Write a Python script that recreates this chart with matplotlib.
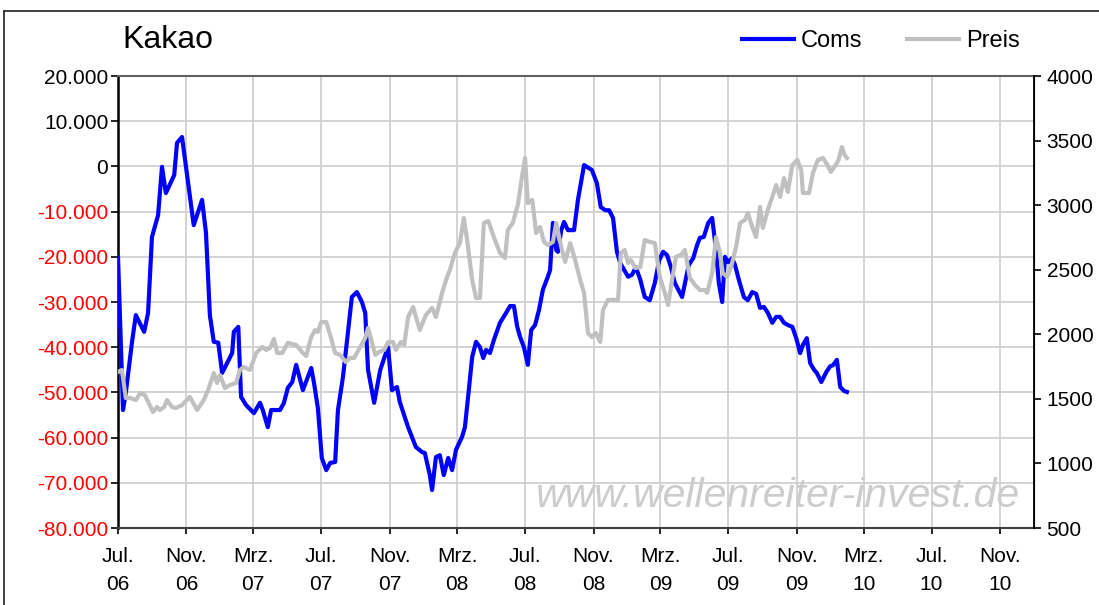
import numpy as np
import pandas as pd
import matplotlib
matplotlib.use('Agg')
import matplotlib.pyplot as plt
from matplotlib.lines import Line2D
from matplotlib.ticker import FuncFormatter

plt.rcParams['font.family'] = ['Liberation Sans', 'DejaVu Sans']

# Coms (net position), left axis
coms_dates = ['2006-07-01', '2006-07-10', '2006-07-15', '2006-07-26', '2006-08-02', '2006-08-17',
              '2006-08-24', '2006-08-31', '2006-09-11', '2006-09-18', '2006-09-25', '2006-10-04',
              '2006-10-10', '2006-10-15', '2006-10-24', '2006-11-14', '2006-11-29', '2006-12-06',
              '2006-12-13', '2006-12-20', '2006-12-28', '2007-01-04', '2007-01-11', '2007-01-22',
              '2007-01-25', '2007-02-02', '2007-02-07', '2007-02-16', '2007-03-02', '2007-03-13',
              '2007-03-18', '2007-03-27', '2007-04-02', '2007-04-18', '2007-04-25', '2007-05-02',
              '2007-05-10', '2007-05-17', '2007-05-29', '2007-06-13', '2007-06-18', '2007-06-25',
              '2007-07-02', '2007-07-10', '2007-07-17', '2007-07-26', '2007-07-31', '2007-08-09',
              '2007-08-25', '2007-09-03', '2007-09-12', '2007-09-18', '2007-09-23', '2007-10-04',
              '2007-10-15', '2007-10-24', '2007-10-29', '2007-11-05', '2007-11-14', '2007-11-19',
              '2007-12-04', '2007-12-18', '2007-12-29', '2008-01-03', '2008-01-12', '2008-01-16',
              '2008-01-23', '2008-01-30', '2008-02-06', '2008-02-14', '2008-02-21', '2008-02-28',
              '2008-03-10', '2008-03-15', '2008-03-22', '2008-03-28', '2008-04-04', '2008-04-11',
              '2008-04-17', '2008-04-22', '2008-04-29', '2008-05-06', '2008-05-17', '2008-05-28',
              '2008-06-04', '2008-06-11', '2008-06-17', '2008-06-22', '2008-06-29', '2008-07-06',
              '2008-07-12', '2008-07-19', '2008-07-26', '2008-08-02', '2008-08-11', '2008-08-15',
              '2008-08-20', '2008-08-26', '2008-08-29', '2008-09-04', '2008-09-09', '2008-09-16',
              '2008-09-27', '2008-10-04', '2008-10-15', '2008-10-29', '2008-11-07', '2008-11-14',
              '2008-11-22', '2008-11-29', '2008-12-06', '2008-12-13', '2008-12-19', '2008-12-26',
              '2009-01-02', '2009-01-09', '2009-01-16', '2009-01-24', '2009-02-01', '2009-02-10',
              '2009-02-19', '2009-02-27', '2009-03-06', '2009-03-13', '2009-03-20', '2009-03-27',
              '2009-04-09', '2009-04-21', '2009-04-29', '2009-05-06', '2009-05-11', '2009-05-18',
              '2009-05-26', '2009-06-02', '2009-06-09', '2009-06-14', '2009-06-20', '2009-06-25',
              '2009-07-01', '2009-07-08', '2009-07-13', '2009-07-20', '2009-07-29', '2009-08-05',
              '2009-08-13', '2009-08-20', '2009-08-27', '2009-09-03', '2009-09-10', '2009-09-18',
              '2009-09-25', '2009-10-02', '2009-10-09', '2009-10-16', '2009-10-24', '2009-10-31',
              '2009-11-07', '2009-11-12', '2009-11-19', '2009-11-25', '2009-12-02', '2009-12-07',
              '2009-12-15', '2009-12-24', '2009-12-31', '2010-01-05', '2010-01-12', '2010-01-18',
              '2010-01-25', '2010-01-30']
coms = [-20000, -53900, -50100, -39000, -32900, -36600,
        -32400, -15600, -10800, -100, -5900, -3500,
        -1900, 5200, 6500, -13000, -7400, -14700,
        -32900, -38800, -39000, -45700, -44000, -41300,
        -36600, -35500, -51000, -52800, -54600, -52300,
        -53900, -57700, -53900, -53900, -52300, -49000,
        -47700, -43900, -49500, -44600, -47900, -53500,
        -64500, -67200, -65600, -65400, -53900, -46600,
        -28900, -27800, -30000, -32400, -45000, -52300,
        -45000, -41700, -40000, -49500, -48800, -52100,
        -57700, -62100, -63200, -63400, -68300, -71600,
        -64300, -63900, -68300, -64500, -67200, -62700,
        -59800, -57700, -49500, -42200, -38800, -40000,
        -42400, -40600, -41300, -38400, -34600, -32400,
        -30900, -30900, -35500, -37700, -40000, -43900,
        -36200, -35100, -31800, -27300, -24400, -22900,
        -12500, -18500, -18900, -14100, -12300, -14100,
        -14100, -7400, 300, -800, -3700, -9000,
        -9700, -9700, -11400, -18900, -21400, -22900,
        -24400, -24000, -22300, -25100, -28900, -29600,
        -25800, -20700, -18900, -19600, -22300, -25800,
        -28900, -21800, -20300, -17400, -15800, -15600,
        -12500, -11400, -18500, -25800, -30000, -20000,
        -21200, -20300, -21800, -25100, -28900, -29600,
        -27800, -28200, -31300, -31100, -32400, -34600,
        -33300, -33300, -34600, -35100, -35500, -38000,
        -41300, -39500, -38000, -43500, -45000, -45700,
        -47700, -45500, -44200, -44000, -42800, -48800,
        -49700, -49900]

# Preis (price), right axis
preis_dates = ['2006-07-01', '2006-07-08', '2006-07-15', '2006-07-23', '2006-08-02', '2006-08-10',
               '2006-08-18', '2006-08-27', '2006-09-02', '2006-09-09', '2006-09-14', '2006-09-22',
               '2006-09-27', '2006-10-06', '2006-10-13', '2006-10-24', '2006-11-07', '2006-11-20',
               '2006-12-02', '2006-12-10', '2006-12-20', '2006-12-26', '2006-12-31', '2007-01-09',
               '2007-01-18', '2007-01-29', '2007-02-05', '2007-02-12', '2007-02-23', '2007-03-06',
               '2007-03-17', '2007-03-24', '2007-03-31', '2007-04-07', '2007-04-13', '2007-04-22',
               '2007-05-02', '2007-05-17', '2007-05-29', '2007-06-04', '2007-06-13', '2007-06-20',
               '2007-06-25', '2007-07-01', '2007-07-10', '2007-07-17', '2007-07-26', '2007-08-04',
               '2007-08-14', '2007-08-22', '2007-08-29', '2007-09-09', '2007-09-18', '2007-09-23',
               '2007-09-28', '2007-10-06', '2007-10-13', '2007-10-22', '2007-10-29', '2007-11-07',
               '2007-11-12', '2007-11-21', '2007-11-27', '2007-12-04', '2007-12-13', '2007-12-25',
               '2008-01-05', '2008-01-16', '2008-01-23', '2008-02-03', '2008-02-12', '2008-02-17',
               '2008-02-26', '2008-03-06', '2008-03-13', '2008-03-19', '2008-03-28', '2008-04-04',
               '2008-04-11', '2008-04-18', '2008-04-26', '2008-05-06', '2008-05-17', '2008-05-26',
               '2008-05-31', '2008-06-09', '2008-06-18', '2008-06-26', '2008-07-01', '2008-07-06',
               '2008-07-14', '2008-07-21', '2008-07-28', '2008-08-04', '2008-08-11', '2008-08-20',
               '2008-08-26', '2008-09-04', '2008-09-11', '2008-09-20', '2008-09-29', '2008-10-08',
               '2008-10-15', '2008-10-22', '2008-10-29', '2008-11-05', '2008-11-13', '2008-11-18',
               '2008-11-27', '2008-12-10', '2008-12-15', '2008-12-20', '2008-12-27', '2009-01-02',
               '2009-01-07', '2009-01-15', '2009-01-24', '2009-02-01', '2009-02-10', '2009-02-19',
               '2009-02-28', '2009-03-09', '2009-03-15', '2009-03-22', '2009-03-29', '2009-04-07',
               '2009-04-14', '2009-04-23', '2009-05-02', '2009-05-11', '2009-05-20', '2009-05-24',
               '2009-06-02', '2009-06-09', '2009-06-16', '2009-06-21', '2009-06-29', '2009-07-06',
               '2009-07-15', '2009-07-22', '2009-07-31', '2009-08-05', '2009-08-13', '2009-08-20',
               '2009-08-27', '2009-09-01', '2009-09-10', '2009-09-18', '2009-09-25', '2009-10-02',
               '2009-10-09', '2009-10-16', '2009-10-24', '2009-11-02', '2009-11-09', '2009-11-12',
               '2009-11-23', '2009-11-30', '2009-12-09', '2009-12-18', '2009-12-26', '2010-01-01',
               '2010-01-10', '2010-01-15', '2010-01-21', '2010-01-26', '2010-01-30']
preis = [1708, 1724, 1507, 1507, 1491, 1545,
         1530, 1452, 1398, 1437, 1414, 1437,
         1491, 1437, 1429, 1452, 1515, 1414,
         1491, 1569, 1700, 1623, 1685, 1584,
         1607, 1623, 1724, 1747, 1724, 1855,
         1902, 1879, 1894, 1964, 1855, 1855,
         1933, 1917, 1855, 1832, 1979, 2033,
         2018, 2095, 2095, 1995, 1855, 1840,
         1786, 1817, 1817, 1902, 1971, 2049,
         1971, 1840, 1863, 1879, 1940, 1940,
         1879, 1940, 1917, 2134, 2211, 2033,
         2150, 2204, 2134, 2320, 2444, 2498,
         2630, 2707, 2900, 2730, 2421, 2281,
         2281, 2862, 2877, 2753, 2630, 2591,
         2808, 2862, 3001, 3233, 3365, 3017,
         3040, 2784, 2831, 2715, 2691, 2715,
         2862, 2676, 2560, 2707, 2575, 2421,
         2320, 2010, 1979, 2010, 1940, 2188,
         2266, 2266, 2266, 2630, 2653, 2552,
         2575, 2513, 2521, 2730, 2715, 2707,
         2444, 2320, 2227, 2421, 2599, 2614,
         2653, 2436, 2382, 2343, 2343, 2320,
         2475, 2753, 2630, 2475, 2444, 2521,
         2676, 2862, 2885, 2939, 2831, 2753,
         2986, 2823, 2963, 3063, 3156, 3063,
         3210, 3102, 3311, 3350, 3272, 3094,
         3094, 3249, 3350, 3365, 3311, 3257,
         3311, 3350, 3450, 3388, 3365]

tick_dates = pd.date_range('2006-07-01', '2010-11-01', freq='4MS')
month_names = {7: 'Jul.', 11: 'Nov.', 3: 'Mrz.'}
tick_labels = [f"{month_names[d.month]}\n{d.strftime('%y')}" for d in tick_dates]

fig = plt.figure(figsize=(10.99, 6.05), dpi=100)
ax = fig.add_axes([118/1099, 1-528/605, (1034-118)/1099, (528-76)/605])
ax2 = ax.twinx()

ax.plot(pd.to_datetime(coms_dates), coms, color='#0000FF', lw=3, label='Coms', zorder=3)
ax2.plot(pd.to_datetime(preis_dates), preis, color='#C0C0C0', lw=3, label='Preis', zorder=3)

ax.set_xlim(pd.Timestamp('2006-07-01'), pd.Timestamp('2011-01-01'))
ax.set_ylim(-80000, 20000)
ax2.set_ylim(500, 4000)
ax.set_yticks(np.arange(-80000, 20001, 10000))
ax2.set_yticks(np.arange(500, 4001, 500))
ax.set_xticks(tick_dates)
ax.set_xticklabels(tick_labels, linespacing=1.6)

def fmt_left(v, pos):
    return f"{int(v):,}".replace(',', '.')
ax.yaxis.set_major_formatter(FuncFormatter(fmt_left))

ax.grid(True, color='#D0D0D0', lw=1.3)
ax.set_axisbelow(True)

ax.tick_params(axis='y', labelsize=15, length=5, width=1.2, pad=2)
ax.tick_params(axis='x', labelsize=15, length=4, width=1.2, pad=10)
ax2.tick_params(axis='y', labelsize=15, length=5, width=1.2, pad=4)
for lab, v in zip(ax.get_yticklabels(), ax.get_yticks()):
    lab.set_color('#FF0000' if v < 0 else 'black')

ax.spines['left'].set_linewidth(1.8)
ax.spines['left'].set_color('black')
ax.spines['bottom'].set_color('#404040')
ax.spines['bottom'].set_linewidth(1.5)
ax.spines['top'].set_color('#606060')
ax.spines['top'].set_linewidth(1.5)
ax2.spines['right'].set_color('black')
ax2.spines['right'].set_linewidth(1.3)
for s in ['left', 'top', 'bottom']:
    ax2.spines[s].set_visible(False)

# watermark
ax.text(0.985, 0.07, 'www.wellenreiter-invest.de', transform=ax.transAxes, ha='right', va='center',
        fontsize=29.5, style='italic', color='#CCCCCC', zorder=1)

fig.text(122/1099, 1-40/605, 'Kakao', fontsize=23, ha='left', va='center')

handles = [Line2D([], [], color='#0000FF', lw=3), Line2D([], [], color='#C0C0C0', lw=3)]
fig.legend(handles, ['Coms', 'Preis'], loc='center right', bbox_to_anchor=(1020/1099, 1-41/605),
           ncol=2, frameon=False, fontsize=17, handlelength=2.2, handletextpad=0.3,
           columnspacing=1.9, borderaxespad=0, borderpad=0)

# outer frame (left and top edges visible)
fig.add_artist(Line2D([4/1099, 4/1099], [0, 1-11/605], color='#303030', lw=1.3))
fig.add_artist(Line2D([4/1099, 1], [1-11/605, 1-11/605], color='#303030', lw=1.3))

fig.savefig('out.png', dpi=100)
